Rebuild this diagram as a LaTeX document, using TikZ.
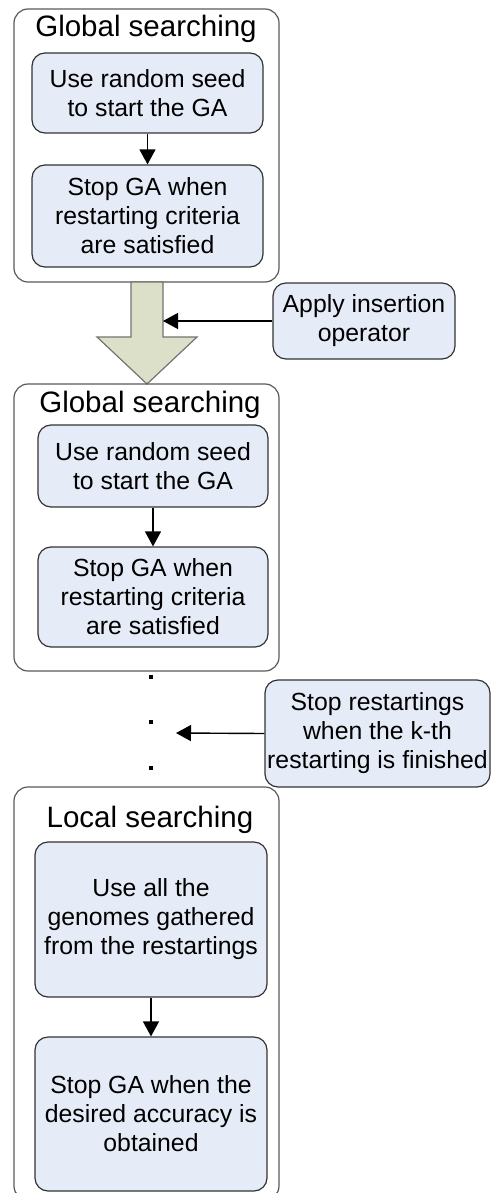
\documentclass[tikz,border=0pt]{standalone}
\usepackage{fontspec}
\setmainfont{Liberation Sans}
\usetikzlibrary{arrows.meta}

\definecolor{stepfill}{RGB}{230,236,247}
\definecolor{bigarrow}{RGB}{221,224,201}

\tikzset{
  phase/.style={draw=black!65, line width=1.2pt, rounded corners=14pt, minimum width=265pt, inner sep=0pt},
  phasetitle/.style={font=\fontsize{29.5}{33}\selectfont, inner sep=0pt, anchor=base},
  stepbox/.style={draw=black!80, fill=stepfill, line width=1.2pt, rounded corners=13pt,
    align=center, inner sep=0pt, font=\fontsize{24.8}{29}\selectfont},
  flow/.style={-{Triangle[length=15pt,width=16pt]}, line width=1.4pt}
}

\begin{document}
\begin{tikzpicture}[x=1pt,y=1pt]
    \useasboundingbox (0,0) rectangle (492,-1193);

    % First global searching
    \node[phase, minimum height=273pt] (glob1) at (146.5,-145.5) {};
    \node[phasetitle] (globtitle1) at (146,-37) {Global searching};
    \node[stepbox, minimum width=231pt, minimum height=80pt] (seed1) at (147.5,-93) {Use random seed\\to start the GA};
    \node[stepbox, minimum width=231pt, minimum height=102pt] (stop1) at (147.5,-216) {Stop GA when\\restarting criteria\\are satisfied};
    \draw[flow] (seed1.south) -- (stop1.north);

    % Big arrow with the insertion operator
    \draw[draw=black!55, fill=bigarrow, line width=1.2pt]
        (131,-282) -- (131,-337) -- (97,-337) -- (147,-384) -- (197,-337) -- (163,-337) -- (163,-282) -- cycle;
    \coordinate (insend) at (163,-321);
    \node[stepbox, minimum width=182pt, minimum height=76pt] (insert) at (364,-321) {Apply insertion\\operator};
    \draw[flow] (insert.west) -- (insend);

    % Second global searching
    \node[phase, minimum height=287pt] (glob2) at (146.5,-527.5) {};
    \node[phasetitle] (globtitle2) at (150,-412) {Global searching};
    \node[stepbox, minimum width=230pt, minimum height=82pt] (seed2) at (153,-466) {Use random seed\\to start the GA};
    \node[stepbox, minimum width=230pt, minimum height=100pt] (stop2) at (153,-597) {Stop GA when\\restarting criteria\\are satisfied};
    \draw[flow] (seed2.south) -- (stop2.north);

    % Dots for the further restartings
    \fill (149,-675) rectangle (153,-679);
    \fill (149,-720) rectangle (153,-724);
    \fill (149,-766) rectangle (153,-770);
    \coordinate (restend) at (176,-733);
    \node[stepbox, minimum width=225pt, minimum height=107pt] (restop) at (377.5,-733.5) {Stop restartings\\when the k-th\\restarting is finished};
    \draw[flow] (restop.west) -- (restend);

    % Local searching
    \node[phase, minimum height=413pt] (loc) at (146.5,-993.5) {};
    \node[phasetitle] (loctitle) at (150,-827) {Local searching};
    \node[stepbox, minimum width=232pt, minimum height=155pt] (gather) at (151,-919.5) {Use all the\\genomes gathered\\from the restartings};
    \node[stepbox, minimum width=232pt, minimum height=154pt] (accur) at (151,-1114) {Stop GA when the\\desired accuracy is\\obtained};
    \draw[flow] (gather.south) -- (accur.north);
\end{tikzpicture}
\end{document}
